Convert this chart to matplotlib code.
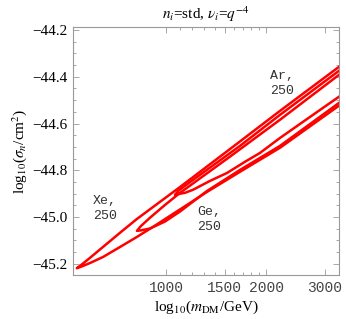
import matplotlib
matplotlib.use("Agg")
import matplotlib.pyplot as plt
from matplotlib.ticker import FixedLocator, NullFormatter
import numpy as np

plt.rcParams['font.family'] = ['Liberation Serif', 'DejaVu Serif']
plt.rcParams['mathtext.fontset'] = 'stix'

# contour branches: mass [GeV], log10(sigma_n/cm^2)
xe_up_m = [540, 560, 591, 647, 728, 818, 1102, 1667, 2198, 3400]
xe_up_s = [-45.220, -45.203, -45.176, -45.129, -45.068, -45.009, -44.872, -44.677, -44.546, -44.344]
xe_lo_m = [540, 560, 591, 647, 728, 818, 914, 1102, 1328, 1667, 2198, 3400]
xe_lo_s = [-45.220, -45.212, -45.198, -45.172, -45.129, -45.086, -45.043, -44.968, -44.893, -44.807, -44.704, -44.511]

ge_up_m = [818, 840, 895, 993, 1102, 1556, 2198, 3400]
ge_up_s = [-45.060, -45.040, -45.004, -44.949, -44.897, -44.742, -44.584, -44.378]
ge_lo_m = [818, 840, 895, 993, 1102, 1328, 1667, 2198, 3400]
ge_lo_s = [-45.060, -45.058, -45.050, -45.020, -44.977, -44.889, -44.799, -44.696, -44.499]

ar_up_m = [1064, 1090, 1140, 1265, 1667, 2198, 3400]
ar_up_s = [-44.906, -44.888, -44.867, -44.820, -44.696, -44.563, -44.361]
ar_lo_m = [1064, 1090, 1140, 1205, 1355, 1524, 1726, 1915, 2198, 2704, 3400]
ar_lo_s = [-44.906, -44.902, -44.897, -44.884, -44.846, -44.812, -44.764, -44.726, -44.662, -44.572, -44.473]

labels = ['Xe,\n250', 'Ge,\n250', 'Ar,\n250']
label_m = [604, 1239, 2051]
label_s = [-44.906, -44.953, -44.371]

xticks = [1000, 1500, 2000, 3000]
xminor = [1100, 1200, 1300, 1400, 1600, 1700, 1800, 1900]
yticks = [-45.2, -45.0, -44.8, -44.6, -44.4, -44.2]

fig = plt.figure(figsize=(3.46, 3.19), dpi=100)
ax = fig.add_axes([0.211, 0.138, 0.769, 0.777])

branches = [(xe_up_m, xe_up_s, xe_lo_m, xe_lo_s),
            (ge_up_m, ge_up_s, ge_lo_m, ge_lo_s),
            (ar_up_m, ar_up_s, ar_lo_m, ar_lo_s)]
for um, us, lm, ls in branches:
    m = list(um[::-1]) + list(lm[1:])
    s = list(us[::-1]) + list(ls[1:])
    ax.plot(m, s, color='#ff0000', lw=1.8, solid_joinstyle='round')

for t, m, s in zip(labels, label_m, label_s):
    ax.text(m, s, t, family='Liberation Mono', fontsize=9.5, color='#333333',
            ha='left', va='top', linespacing=1.35)

ax.set_xscale('log')
ax.set_xlim(526, 3307)
ax.set_ylim(-45.249, -44.187)
ax.xaxis.set_major_locator(FixedLocator(xticks))
ax.xaxis.set_minor_locator(FixedLocator(xminor))
ax.xaxis.set_minor_formatter(NullFormatter())
ax.set_xticklabels([str(v) for v in xticks], family='Liberation Mono',
                   fontsize=10.5, color='#444444')
ax.set_yticks(yticks)
ax.set_yticklabels(['\u2212%.1f' % abs(v) for v in yticks], fontsize=11)
ax.yaxis.set_minor_locator(FixedLocator(np.arange(-45.25, -44.18, 0.05)))

for sp in ax.spines.values():
    sp.set_color('#999999')
    sp.set_linewidth(0.8)
ax.tick_params(which='both', direction='in', top=True, right=True,
               color='#999999', width=0.6)
ax.tick_params(which='major', length=4, pad=4)
ax.tick_params(which='minor', length=2)

ax.set_xlabel(r'log$_{10}$($m_{\rm DM}$/GeV)', fontsize=11, labelpad=3)
ax.set_ylabel(r'log$_{10}$($\sigma_n$/cm$^2$)', fontsize=11, labelpad=2)
ax.set_title(r'$n_i$=std, $\nu_i$=$q^{-4}$', fontsize=11, pad=6)

fig.savefig('out.png', dpi=100)
